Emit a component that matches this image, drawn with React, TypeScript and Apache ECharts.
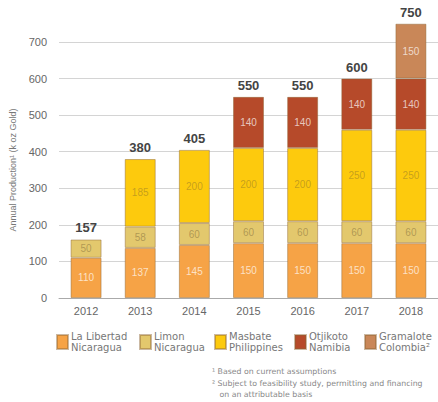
import React, { useEffect, useRef } from "react";
import * as echarts from "echarts";

const years = ["2012", "2013", "2014", "2015", "2016", "2017", "2018"];
const laLibertad = [110, 137, 145, 150, 150, 150, 150];
const limon = [50, 58, 60, 60, 60, 60, 60];
const masbate = [0, 185, 200, 200, 200, 250, 250];
const otjikoto = [0, 0, 0, 140, 140, 140, 140];
const gramalote = [0, 0, 0, 0, 0, 0, 150];
const totals = [157, 380, 405, 550, 550, 600, 750];
const yTicks = [0, 100, 200, 300, 400, 500, 600, 700];

const seriesDefs = [
  { name: "La Libertad\nNicaragua", data: laLibertad, color: "#F6A346", label: "rgba(255,255,255,0.7)" },
  { name: "Limon\nNicaragua", data: limon, color: "#E3C86D", label: "rgba(110,90,50,0.45)" },
  { name: "Masbate\nPhilippines", data: masbate, color: "#FDCA0D", label: "rgba(110,90,50,0.4)" },
  { name: "Otjikoto\nNamibia", data: otjikoto, color: "#B64A2A", label: "rgba(255,255,255,0.7)" },
  { name: "Gramalote\nColombia²", data: gramalote, color: "#C98758", label: "rgba(255,255,255,0.7)" },
];
const legendLefts = [56, 139, 214, 294, 364];

export default function App() {
  const ref = useRef<HTMLDivElement>(null);
  useEffect(() => {
    const chart = echarts.init(ref.current!, undefined, { renderer: "svg" });
    const font = "Liberation Sans, Arial, sans-serif";
    const series: any[] = seriesDefs.map((s) => ({
      name: s.name,
      type: "bar",
      stack: "total",
      barWidth: 31,
      clip: false,
      data: s.data.map((v) => (v === 0 ? null : v)),
      itemStyle: { color: s.color, borderColor: "rgba(140,100,50,0.45)", borderWidth: 1 },
      label: {
        show: true,
        position: "inside",
        color: s.label,
        fontSize: 10,
        fontFamily: font,
      },
    }));
    series.push({
      name: "total",
      type: "bar",
      stack: "total",
      barWidth: 31,
      clip: false,
      data: totals.map(() => 0),
      itemStyle: { color: "transparent" },
      label: {
        show: true,
        position: "top",
        distance: 5,
        color: "#444",
        fontSize: 13,
        fontWeight: "bold",
        fontFamily: font,
        formatter: (p: any) => String(totals[p.dataIndex]),
      },
    });
    chart.setOption({
      animation: false,
      backgroundColor: "#fff",
      textStyle: { fontFamily: font },
      grid: { left: 57, right: -4, top: 42, bottom: 104 },
      xAxis: {
        type: "category",
        data: years,
        axisLine: { show: true, lineStyle: { color: "#aaa" } },
        axisTick: { show: false },
        axisLabel: { color: "#666", fontSize: 11, margin: 7 },
      },
      yAxis: {
        type: "value",
        min: 0,
        max: 700,
        interval: 100,
        axisLabel: {
          color: "#666",
          fontSize: 11,
          margin: 12,
          formatter: (v: number) => (yTicks.includes(v) ? String(v) : ""),
        },
        splitLine: { lineStyle: { color: "#d4d4d4" } },
        name: "Annual Production¹ (k oz Gold)",
        nameLocation: "middle",
        nameGap: 42,
        nameRotate: 90,
        nameTextStyle: { color: "#777", fontSize: 9 },
      },
      legend: seriesDefs.map((s, i) => ({
        data: [s.name],
        left: legendLefts[i],
        top: 331,
        padding: 0,
        itemWidth: 11,
        itemHeight: 14,
        itemGap: 0,
        icon: "rect",
        textStyle: {
          color: "#777",
          fontSize: 10,
          lineHeight: 11,
          fontFamily: "DejaVu Sans, sans-serif",
          padding: [0, 0, 0, -2],
        },
      })),
      graphic: [
        {
          type: "text",
          left: 212,
          top: 366,
          style: {
            text: "¹ Based on current assumptions\n² Subject to feasibility study, permitting and financing\n   on an attributable basis",
            fill: "#888",
            fontSize: 7.8,
            lineHeight: 11.5,
            fontFamily: "DejaVu Sans, sans-serif",
          },
        },
      ],
      series,
    });
    return () => chart.dispose();
  }, []);
  return <div ref={ref} style={{ width: 438, height: 402, position: "absolute", left: 0, top: 0 }} />;
}
